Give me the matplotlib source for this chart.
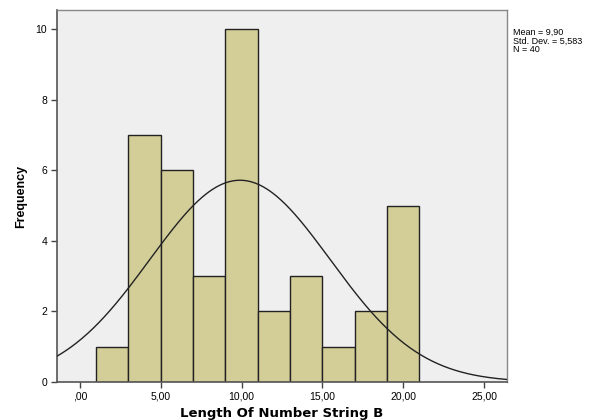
import numpy as np
import matplotlib
matplotlib.use("Agg")
import matplotlib.pyplot as plt

bin_edges = [1, 3, 5, 7, 9, 11, 13, 15, 17, 19, 21]
counts = [1, 7, 6, 3, 10, 2, 3, 1, 2, 5]
mean = 9.90
sd = 5.583
n = 40
xticks = [0, 5, 10, 15, 20, 25]
xticklabels = [",00", "5,00", "10,00", "15,00", "20,00", "25,00"]
yticks = [0, 2, 4, 6, 8, 10]

plt.rcParams['font.family'] = ['Liberation Sans', 'DejaVu Sans']

fig = plt.figure(figsize=(6.04, 4.20), dpi=100)
ax = fig.add_axes([57/604, 38/420, 450/604, 372/420])
ax.set_facecolor('#efefef')

lefts = np.array(bin_edges[:-1])
widths = np.diff(bin_edges)
ax.bar(lefts, counts, width=widths, align='edge', color='#d3ce98',
       edgecolor='#222222', linewidth=1.0, zorder=2)

xmin, xmax = -1.42, 26.42
xs = np.linspace(xmin, xmax, 400)
bw = widths[0]
ys = n * bw / (sd * np.sqrt(2*np.pi)) * np.exp(-0.5*((xs-mean)/sd)**2)
ax.plot(xs, ys, color='#222222', linewidth=1.0, zorder=3)

ax.set_xlim(xmin, xmax)
ax.set_ylim(0, 10.54)
ax.set_xticks(xticks)
ax.set_xticklabels(xticklabels, fontsize=7.5)
ax.set_yticks(yticks)
ax.set_yticklabels([str(v) for v in yticks], fontsize=7.5)
ax.tick_params(axis='both', length=4, width=1, color='#444444', direction='out', pad=3)

for s in ['top', 'right']:
    ax.spines[s].set_color('#888888')
    ax.spines[s].set_linewidth(1.0)
for s in ['left', 'bottom']:
    ax.spines[s].set_color('#555555')
    ax.spines[s].set_linewidth(1.2)

ax.set_xlabel("Length Of Number String B", fontsize=9.5, fontweight='bold',
              labelpad=4, family=['DejaVu Sans'])
ax.set_ylabel("Frequency", fontsize=9, fontweight='bold', labelpad=6)

fig.text(513/604, 1 - 28/420, "Mean = 9,90\nStd. Dev. = 5,583\nN = 40",
         fontsize=6.5, va='top', ha='left', linespacing=0.95)

fig.savefig("out.png", dpi=100)
